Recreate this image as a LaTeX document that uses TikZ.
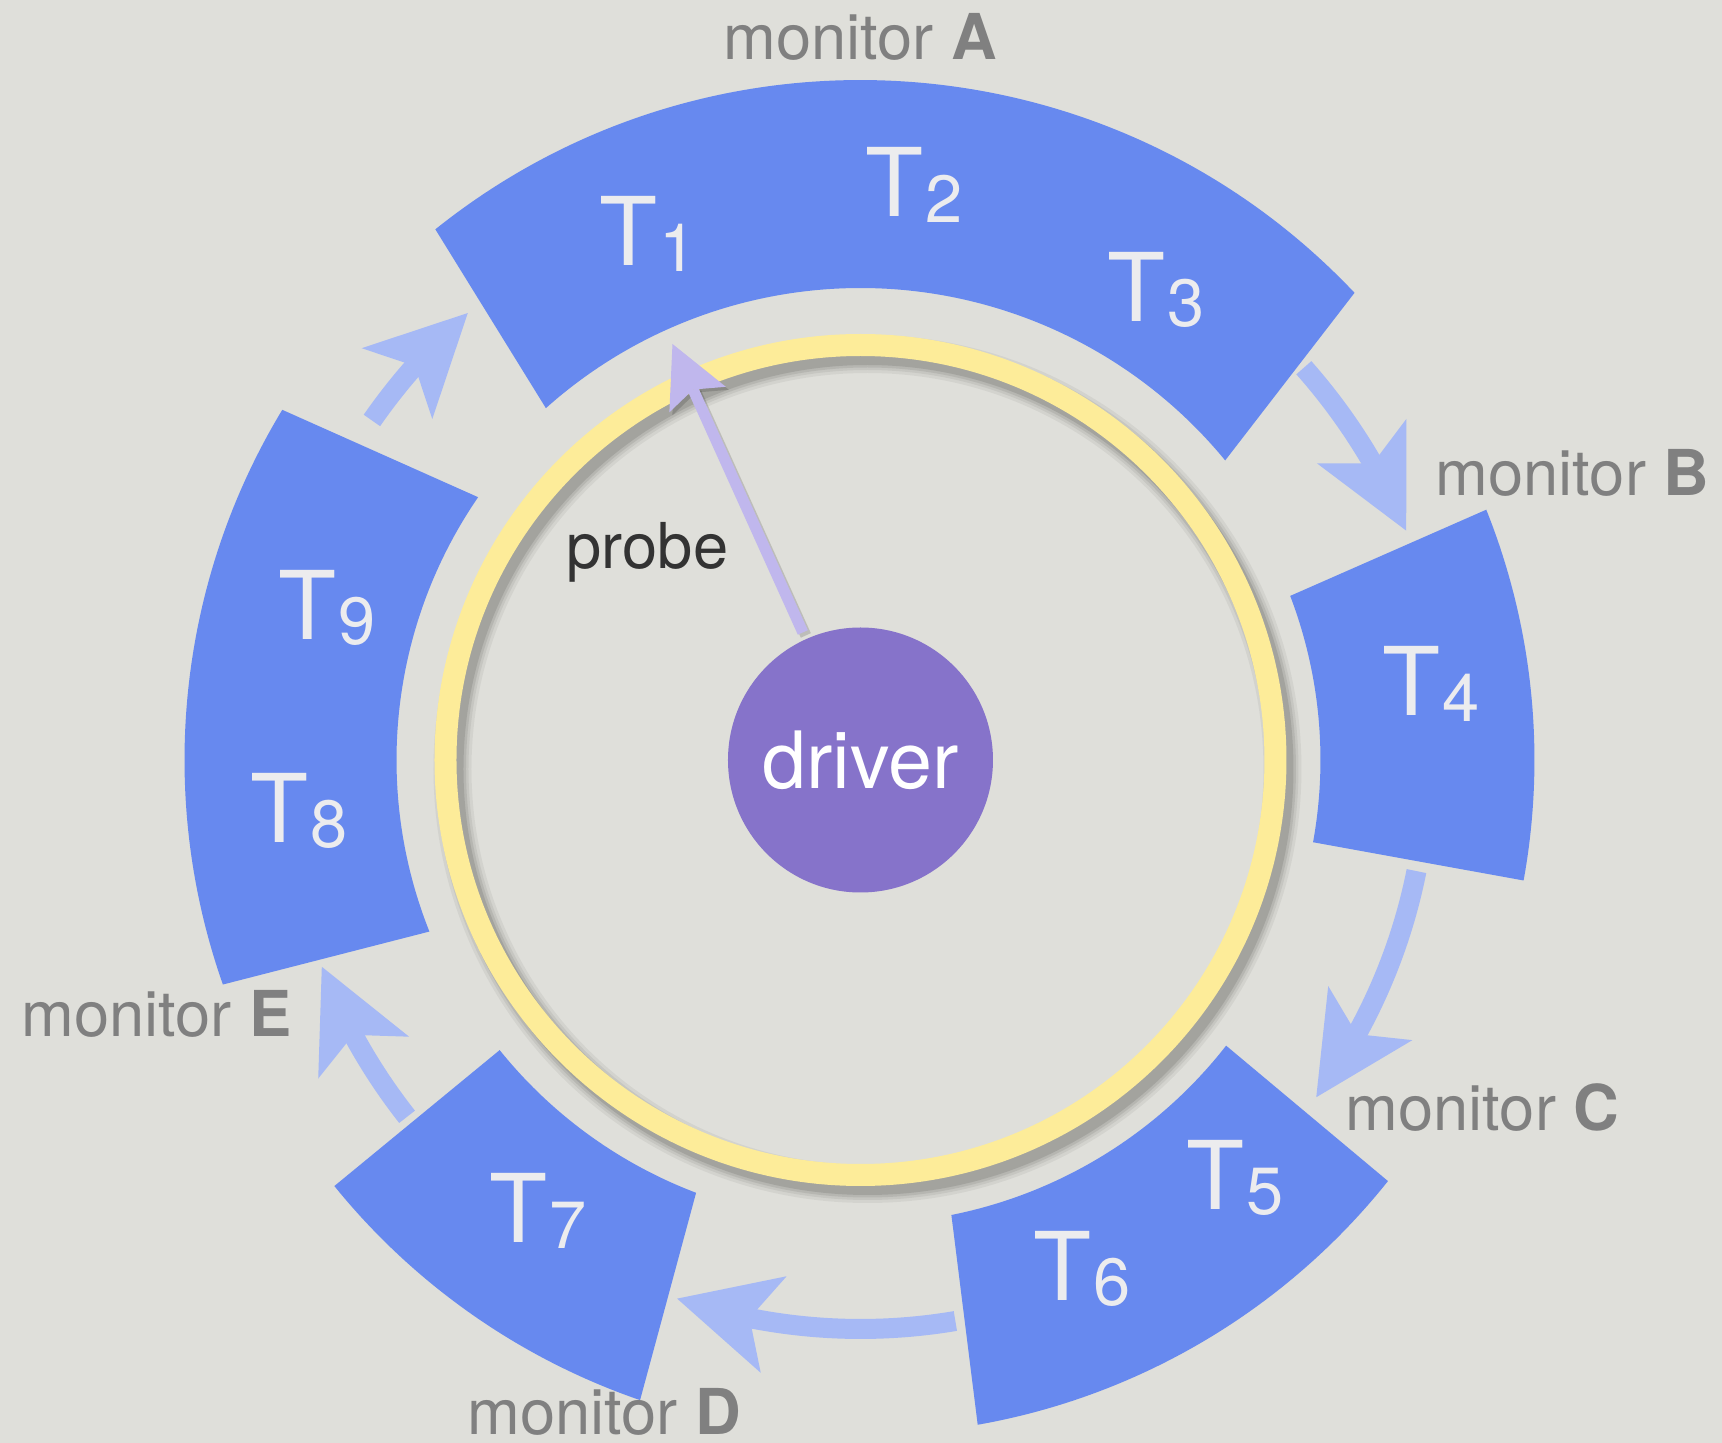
\documentclass[tikz,border=0pt]{standalone}
\usepackage{fontspec}
\setmainfont{TeX Gyre Heros}
\usepackage{tikz}
\usetikzlibrary{arrows.meta,bending}

\definecolor{paper}{RGB}{223,223,218}
\definecolor{slotblue}{RGB}{103,137,239}
\definecolor{slotwhite}{RGB}{236,236,238}
\definecolor{hopblue}{RGB}{166,185,245}
\definecolor{ringyellow}{RGB}{253,236,153}
\definecolor{drvpurple}{RGB}{134,115,202}
\definecolor{prbpurple}{RGB}{192,183,237}
\definecolor{mongray}{RGB}{128,128,128}

\newcommand{\tk}[1]{T\kern0.02em{\fontsize{19}{19}\selectfont\raisebox{-0.08em}{#1}}}

\begin{document}
\begin{tikzpicture}[
  slot/.style={fill=slotblue},
  tlabel/.style={text=slotwhite,font=\fontsize{27}{27}\selectfont,inner sep=0pt},
  monlabel/.style={text=mongray,font=\fontsize{18}{18}\selectfont,inner sep=0pt},
  hop/.style={draw=hopblue,line width=0.2cm,
    -{Stealth[length=1cm,width=1cm,inset=0.25cm,line width=0pt]}},
]
  \fill[paper] (-8.605,-6.83) rectangle (8.615,7.60);

  \fill[slot] (128.7:6.80) arc[start angle=128.7,end angle=43.4,radius=6.80]
    -- (39.4:4.72) arc[start angle=39.4,end angle=131.8,radius=4.72] -- cycle;
  \fill[slot] (21.8:6.74) arc[start angle=21.8,end angle=-10.3,radius=6.74]
    -- (-10.3:4.60) arc[start angle=-10.3,end angle=20.9,radius=4.60] -- cycle;
  \fill[slot] (-38.6:6.75) arc[start angle=-38.6,end angle=-80.0,radius=6.75]
    -- (-78.7:4.64) arc[start angle=-78.7,end angle=-38.0,radius=4.64] -- cycle;
  \fill[slot] (-141.0:6.77) arc[start angle=-141.0,end angle=-109.0,radius=6.77]
    -- (-110.8:4.63) arc[start angle=-110.8,end angle=-141.2,radius=4.63] -- cycle;
  \fill[slot] (148.8:6.76) arc[start angle=148.8,end angle=199.4,radius=6.76]
    -- (201.7:4.64) arc[start angle=201.7,end angle=145.5,radius=4.64] -- cycle;

  \foreach \w/\o in {0.38/0.05,0.32/0.06,0.27/0.08,0.22/0.10}
    \draw[black,opacity=\o,line width=\w cm] (0.07,-0.09) circle (4.15);
  \draw[ringyellow,line width=0.22cm] (0,0) circle (4.15);

  \node[circle,fill=drvpurple,minimum size=2.65cm,inner sep=0pt,text=white,
    font=\fontsize{22.5}{22.5}\selectfont] (driver) at (0,0) {driver};
  \coordinate (probetip) at (-1.88,4.16);
  \draw[black,opacity=0.15,line width=0.11cm,shorten <=1.40cm,
    -{Stealth[length=0.61cm,width=0.62cm,inset=0.11cm,line width=0pt]}]
    ([shift={(0.03,-0.03)}]driver.center) -- ([shift={(0.03,-0.03)}]probetip);
  \draw[prbpurple,line width=0.11cm,shorten <=1.40cm,
    -{Stealth[length=0.61cm,width=0.62cm,inset=0.11cm,line width=0pt]}]
    (driver.center) -- (probetip);
  \node[text=black!80,font=\fontsize{18}{18}\selectfont] (probe) at (-2.13,2.08) {probe};

  \coordinate (ab) at (41.5:5.92);
  \coordinate (bc) at (-11.3:5.67);
  \coordinate (cd) at (-80.4:5.69);
  \coordinate (de) at (218.2:5.77);
  \coordinate (ea) at (145.2:5.95);
  \draw[hop] (ab) arc[start angle=41.5,end angle=22.8,radius=5.92];
  \draw[hop] (bc) arc[start angle=-11.3,end angle=-36.5,radius=5.67];
  \draw[hop] (cd) arc[start angle=-80.4,end angle=-108.8,radius=5.69];
  \draw[hop] (de) arc[start angle=218.2,end angle=201.0,radius=5.77];
  \draw[hop] (ea) arc[start angle=145.2,end angle=131.3,radius=5.95];

  \node[tlabel] (t1) at (-2.12,5.26) {\tk{1}};
  \node[tlabel] (t2) at (0.54,5.75) {\tk{2}};
  \node[tlabel] (t3) at (2.96,4.70) {\tk{3}};
  \node[tlabel] (t4) at (5.71,0.76) {\tk{4}};
  \node[tlabel] (t5) at (3.75,-4.18) {\tk{5}};
  \node[tlabel] (t6) at (2.22,-5.09) {\tk{6}};
  \node[tlabel] (t7) at (-3.22,-4.51) {\tk{7}};
  \node[tlabel] (t8) at (-5.61,-0.51) {\tk{8}};
  \node[tlabel] (t9) at (-5.33,1.52) {\tk{9}};

  \node[monlabel] (mona) at (0,7.23) {monitor \textbf{A}};
  \node[monlabel] (monb) at (7.12,2.87) {monitor \textbf{B}};
  \node[monlabel] (monc) at (6.22,-3.48) {monitor \textbf{C}};
  \node[monlabel] (mond) at (-2.56,-6.52) {monitor \textbf{D}};
  \node[monlabel] (mone) at (-7.04,-2.54) {monitor \textbf{E}};
\end{tikzpicture}
\end{document}
